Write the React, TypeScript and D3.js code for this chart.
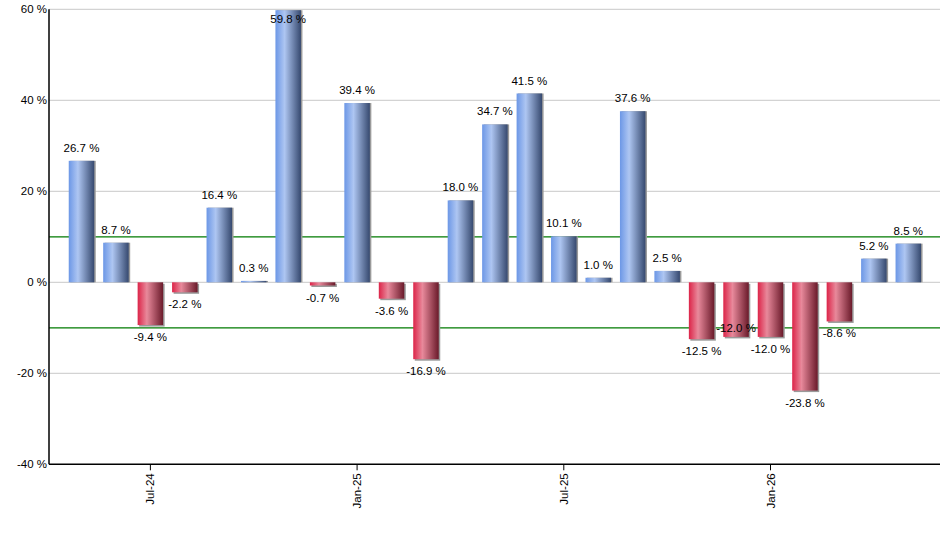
import React from "react";
import * as d3 from "d3";

const months = [
  "May-24", "Jun-24", "Jul-24", "Aug-24", "Sep-24", "Oct-24", "Nov-24", "Dec-24",
  "Jan-25", "Feb-25", "Mar-25", "Apr-25", "May-25", "Jun-25", "Jul-25", "Aug-25",
  "Sep-25", "Oct-25", "Nov-25", "Dec-25", "Jan-26", "Feb-26", "Mar-26", "Apr-26", "May-26",
];
const values = [
  26.7, 8.7, -9.4, -2.2, 16.4, 0.3, 59.8, -0.7, 39.4, -3.6, -16.9, 18.0, 34.7,
  41.5, 10.1, 1.0, 37.6, 2.5, -12.5, -12.0, -12.0, -23.8, -8.6, 5.2, 8.5,
];
const tickLabels = ["Jul-24", "Jan-25", "Jul-25", "Jan-26"];
const yTicks = [-40, -20, 0, 20, 40, 60];
const refLines = [10, -10];

const W = 940;
const H = 550;
const left = 49;
const right = 940;
const top = 9.3;
const bottom = 464.3;
const barW = 25.5;
const FONT = "'Liberation Sans', Arial, sans-serif";

export default function App() {
  const x = d3.scaleLinear().domain([-0.943, 24.92]).range([left, right]);
  const y = d3.scaleLinear().domain([-40, 60]).range([bottom, top]);

  // label placement with simple collision avoidance
  const labelH = 12;
  const charW = (s: string) => s.length * 5.4;
  const placed: { x0: number; x1: number; y0: number; y1: number }[] = [];
  const labels = values.map((v, i) => {
    const text = `${v.toFixed(1)} %`;
    const cx = x(i);
    const end = y(v);
    const w = charW(text);
    let cy = v >= 0 ? end - 13 : end + 12;
    const overlaps = (c: number) =>
      placed.some(
        (p) =>
          cx - w / 2 < p.x1 && cx + w / 2 > p.x0 && c - labelH / 2 < p.y1 && c + labelH / 2 > p.y0
      );
    if (cy - labelH / 2 < top || overlaps(cy)) {
      cy = v >= 0 ? end + 9 : end - 9;
    }
    placed.push({ x0: cx - w / 2, x1: cx + w / 2, y0: cy - labelH / 2, y1: cy + labelH / 2 });
    return { text, cx, cy };
  });

  return (
    <svg
      width={W}
      height={H}
      style={{ position: "absolute", left: 0, top: 0, background: "#fff" }}
      fontFamily={FONT}
    >
      <defs>
        <linearGradient id="gBlue" x1="0" x2="1" y1="0" y2="0">
          <stop offset="0%" stopColor="#6c97e6" />
          <stop offset="36%" stopColor="#aec6f2" />
          <stop offset="100%" stopColor="#36496f" />
        </linearGradient>
        <linearGradient id="gRed" x1="0" x2="1" y1="0" y2="0">
          <stop offset="0%" stopColor="#dc2448" />
          <stop offset="36%" stopColor="#e8899b" />
          <stop offset="100%" stopColor="#6a1a2a" />
        </linearGradient>
      </defs>

      {/* grid */}
      {yTicks.map((t) =>
        t === -40 ? null : (
          <line key={t} x1={left} x2={right} y1={y(t)} y2={y(t)} stroke="#c8c8c8" strokeWidth={1} />
        )
      )}

      {/* reference lines (behind bars) */}
      {refLines.map((r) => (
        <line key={r} x1={left} x2={right} y1={y(r)} y2={y(r)} stroke="#007a00" strokeWidth={1.3} />
      ))}

      {/* bars */}
      {values.map((v, i) => {
        const y0 = Math.min(y(v), y(0));
        const h = Math.abs(y(v) - y(0));
        return (
          <g key={months[i]}>
            <rect x={x(i) - barW / 2 + 1.5} y={y0 + (v < 0 ? 1.5 : 0)} width={barW} height={h} fill="#9a9a9a" />
            <rect x={x(i) - barW / 2} y={y0} width={barW} height={h} fill={v >= 0 ? "url(#gBlue)" : "url(#gRed)"} />
          </g>
        );
      })}

      {/* axes */}
      <line x1={left} x2={left} y1={top} y2={bottom} stroke="#000" strokeWidth={1.5} />
      <line x1={left} x2={right} y1={bottom} y2={bottom} stroke="#000" strokeWidth={1.5} />

      {yTicks.map((t) => (
        <text key={t} x={left - 2} y={y(t)} dy="0.35em" textAnchor="end" fontSize={11.5} fill="#000">
          {`${t} %`}
        </text>
      ))}

      {months.map((m, i) =>
        tickLabels.includes(m) ? (
          <g key={m} transform={`translate(${x(i)},${bottom})`}>
            <line y1={0} y2={6} stroke="#000" strokeWidth={1} />
            <text
              transform="rotate(-90)"
              x={-9}
              y={0}
              dy="0.35em"
              textAnchor="end"
              fontSize={11.5}
              fill="#000"
            >
              {m}
            </text>
          </g>
        ) : null
      )}

      {/* value labels */}
      {labels.map((l, i) => (
        <text key={i} x={l.cx} y={l.cy} dy="0.35em" textAnchor="middle" fontSize={11.5} fill="#000">
          {l.text}
        </text>
      ))}
    </svg>
  );
}
